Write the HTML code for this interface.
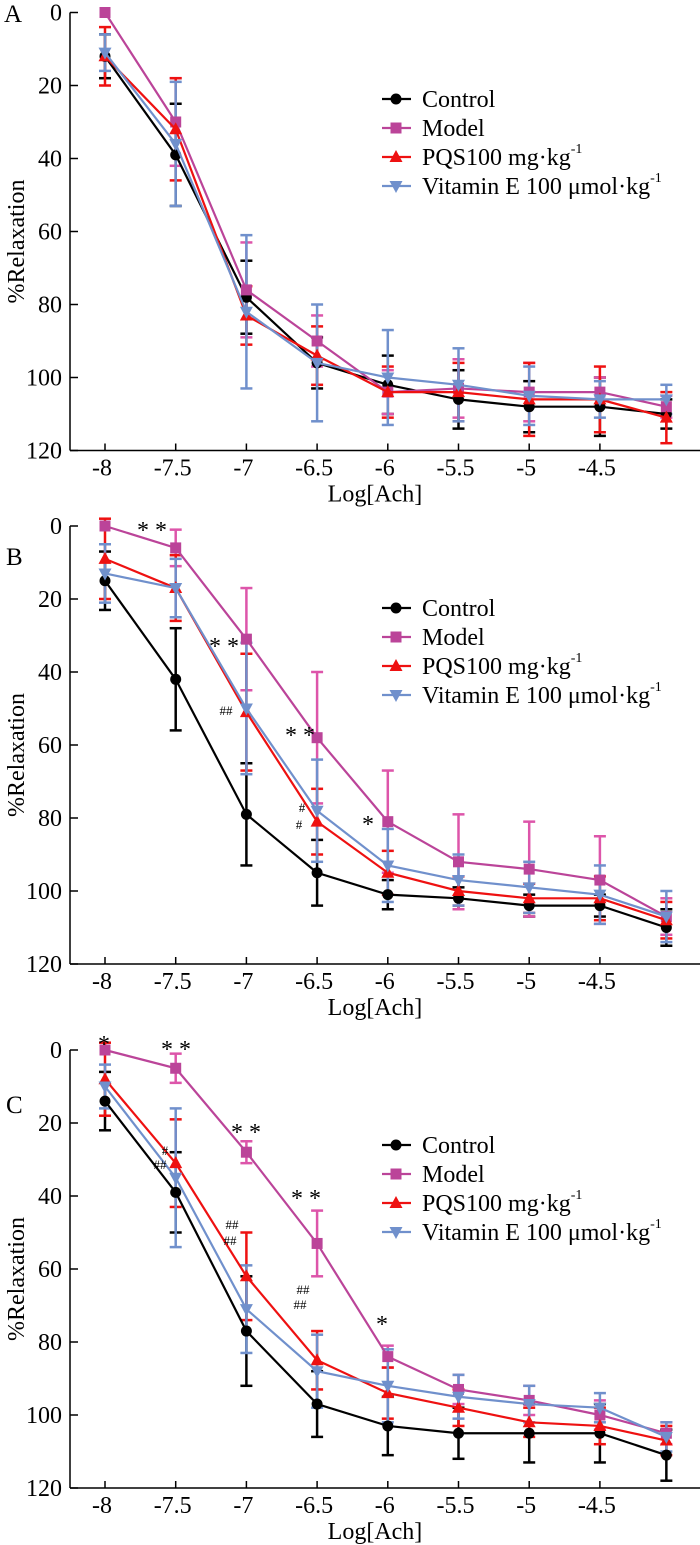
<!DOCTYPE html>
<html><head><meta charset="utf-8"><style>
html,body{margin:0;padding:0;background:#fff}
svg{display:block}
svg text{font-family:"Liberation Serif","Times New Roman","DejaVu Serif",serif}
</style></head><body>
<svg id="chart" width="700" height="1545" viewBox="0 0 700 1545" xmlns="http://www.w3.org/2000/svg"></svg>
<script>
const xCategories = [-8, -7.5, -7, -6.5, -6, -5.5, -5, -4.5, -4.03];
const xTickLabels = ["-8", "-7.5", "-7", "-6.5", "-6", "-5.5", "-5", "-4.5"];
const yTickLabels = [0, 20, 40, 60, 80, 100, 120];
const seriesNames = ["Control", "Model", "PQS100 mg·kg", "Vitamin E 100 μmol·kg"];

const aControl = [12, 39, 78, 96, 102, 106, 108, 108, 110];
const aControlErr = [6, 14, 10, 7, 8, 8, 7, 8, 4];
const aModel = [0, 30, 76, 90, 104, 103, 104, 104, 108];
const aModelErr = [0, 12, 13, 7, 6, 8, 8, 4, 3];
const aPQS = [12, 32, 83, 94, 104, 104, 106, 106, 111];
const aPQSErr = [8, 14, 8, 8, 7, 8, 10, 9, 7];
const aVitE = [11, 36, 82, 96, 100, 102, 105, 106, 106];
const aVitEErr = [5, 17, 21, 16, 13, 10, 8, 5, 4];

const bControl = [15, 42, 79, 95, 101, 102, 104, 104, 110];
const bControlErr = [8, 14, 14, 9, 4, 3, 3, 3, 5];
const bModel = [0, 6, 31, 58, 81, 92, 94, 97, 107];
const bModelErr = [0, 5, 14, 18, 14, 13, 13, 12, 5];
const bPQS = [9, 17, 51, 81, 95, 100, 102, 102, 108];
const bPQSErr = [11, 9, 16, 9, 6, 4, 4, 6, 5];
const bVitE = [13, 17, 50, 78, 93, 97, 99, 101, 107];
const bVitEErr = [8, 8, 18, 14, 10, 7, 7, 8, 7];

const cControl = [14, 39, 77, 97, 103, 105, 105, 105, 111];
const cControlErr = [8, 11, 15, 9, 8, 7, 8, 8, 7];
const cModel = [0, 5, 28, 53, 84, 93, 96, 100, 105];
const cModelErr = [0, 4, 3, 9, 3, 4, 4, 4, 3];
const cPQS = [8, 31, 62, 85, 94, 98, 102, 103, 107];
const cPQSErr = [10, 12, 12, 8, 7, 5, 4, 5, 4];
const cVitE = [10, 35, 71, 88, 92, 95, 97, 98, 106];
const cVitEErr = [6, 19, 12, 10, 10, 6, 5, 4, 4];

const colors = ["#000000", "#bb4499", "#ee1111", "#7090cc"];
const errColors = ["#000000", "#dd55aa", "#ee1111", "#7090cc"];
const NS = "http://www.w3.org/2000/svg";
const svg = document.getElementById('chart');

function mk(tag, attrs, parent, text) {
  const e = document.createElementNS(NS, tag);
  for (const k in attrs) e.setAttribute(k, attrs[k]);
  if (tag === 'text') e.style.fontFamily = '"Liberation Serif","Times New Roman","DejaVu Serif",serif';
  if (text !== undefined) e.textContent = text;
  (parent || svg).appendChild(e);
  return e;
}
function xScale(v) { return 105 + (v + 8) / 0.5 * 70.7; }

function marker(g, type, x, y, c) {
  let m;
  if (type === 0) m = mk('circle', {cx: x, cy: y, r: 5.5, fill: c}, g);
  else if (type === 1) m = mk('rect', {x: x - 5.5, y: y - 5.5, width: 11, height: 11, fill: c}, g);
  else if (type === 2) m = mk('polygon', {points: `${x},${y-7} ${x-6.5},${y+5} ${x+6.5},${y+5}`, fill: c}, g);
  else m = mk('polygon', {points: `${x},${y+7} ${x-6.5},${y-5} ${x+6.5},${y-5}`, fill: c}, g);
  return m;
}

function panel(id, top, letter, letterPos, series, errs, legendTop, notes) {
  const g = mk('g', {});
  
  
  const y = v => top + v * 3.65;
  const bottom = y(120);
  mk('line', {x1: 70, y1: top, x2: 70, y2: bottom, stroke: '#000', 'stroke-width': 1.5}, g);
  const xa = mk('line', {x1: 70, y1: bottom, x2: 700, y2: bottom, stroke: '#000', 'stroke-width': 1.5}, g);
  
  yTickLabels.forEach(t => {
    mk('line', {x1: 70, y1: y(t), x2: 78, y2: y(t), stroke: '#000', 'stroke-width': 1.5}, g);
    const tl = mk('text', {x: 62, y: y(t) + 8, 'text-anchor': 'end', 'font-size': 24}, g, String(t));
    
  });
  xTickLabels.forEach((t, i) => {
    const x = xScale(xCategories[i]);
    mk('line', {x1: x, y1: bottom, x2: x, y2: bottom - 7, stroke: '#000', 'stroke-width': 1.5}, g);
    const tl = mk('text', {x: x - 3, y: bottom + 25, 'text-anchor': 'middle', 'font-size': 24}, g, t);
    
  });
  const xt = mk('text', {x: 375, y: bottom + 51, 'text-anchor': 'middle', 'font-size': 24}, g, 'Log[Ach]');
  
  const yt = mk('text', {x: 0, y: 0, transform: `translate(24,${(top + bottom) / 2 + 10}) rotate(-90)`, 'text-anchor': 'middle', 'font-size': 24}, g, '%Relaxation');
  
  const pl = mk('text', {x: letterPos[0], y: letterPos[1], 'font-size': 25}, g, letter);
  

  series.forEach((s, si) => {
    s.forEach((v, i) => {
      const x = xScale(xCategories[i]), e = errs[si][i];
      if (e <= 0) return;
      const eb = mk('g', {stroke: errColors[si], 'stroke-width': 2.5}, g);
      
      mk('line', {x1: x, y1: y(v - e), x2: x, y2: y(v + e)}, eb);
      mk('line', {x1: x - 6, y1: y(v - e), x2: x + 6, y2: y(v - e)}, eb);
      mk('line', {x1: x - 6, y1: y(v + e), x2: x + 6, y2: y(v + e)}, eb);
    });
  });
  series.forEach((s, si) => {
    const sg = mk('g', {}, g);
    
    const pts = s.map((v, i) => xScale(xCategories[i]) + ',' + y(v)).join(' ');
    mk('polyline', {points: pts, fill: 'none', stroke: colors[si], 'stroke-width': 2.2}, sg);
    s.forEach((v, i) => {
      const m = marker(sg, si, xScale(xCategories[i]), y(v), colors[si]);
      
    });
  });
  const lg = mk('g', {}, g);
  
  seriesNames.forEach((n, i) => {
    const ly = legendTop + i * 29;
    const le = mk('g', {}, lg);
    
    mk('line', {x1: 382, y1: ly, x2: 411, y2: ly, stroke: colors[i], 'stroke-width': 2.2}, le);
    marker(le, i, 396, ly, colors[i]);
    const t = mk('text', {x: 422, y: ly + 8, 'font-size': 24}, le, n);
    if (i >= 2) mk('tspan', {dy: -12, 'font-size': 14}, t, '-1');
  });
  notes.forEach(nt => {
    const a = mk('text', {x: nt[0], y: nt[1], 'font-size': nt[3] || 24, 'text-anchor': 'middle'}, g, nt[2]);
    
  });
}

panel('a', 12.5, 'A', [4, 22], [aControl, aModel, aPQS, aVitE], [aControlErr, aModelErr, aPQSErr, aVitEErr], 99, []);
panel('b', 526, 'B', [6, 565], [bControl, bModel, bPQS, bVitE], [bControlErr, bModelErr, bPQSErr, bVitEErr], 608, [
  [152, 538, '* *'], [224, 654, '* *'], [226, 715, '##', 13], [300, 743, '* *'], [302, 812, '#', 13], [299, 829, '#', 13], [368, 832, '*']
]);
panel('c', 1050, 'C', [6, 1113], [cControl, cModel, cPQS, cVitE], [cControlErr, cModelErr, cPQSErr, cVitEErr], 1145, [
  [104, 1052, '*'], [176, 1057, '* *'], [246, 1140, '* *'], [306, 1206, '* *'], [165, 1155, '#', 13], [160, 1169, '##', 13],
  [232, 1229, '##', 13], [230, 1245, '##', 13], [303, 1294, '##', 13], [300, 1309, '##', 13], [382, 1332, '*']
]);
</script>
</body></html>
